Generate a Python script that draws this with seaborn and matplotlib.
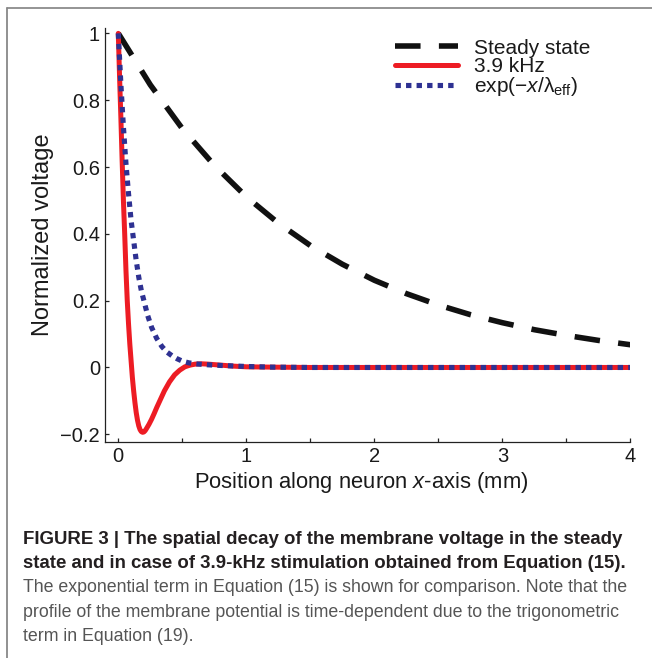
import matplotlib
matplotlib.use("Agg")
import matplotlib.pyplot as plt
from matplotlib.lines import Line2D
import numpy as np
import pandas as pd
import seaborn as sns

# ---------------- data ----------------
steady_x = [0, 0.25, 0.5, 0.75, 1.0, 1.25, 1.5, 1.75, 2.0, 2.25, 2.5, 2.75,
            3.0, 3.25, 3.5, 3.75, 4.0]
steady_y = [1.000, 0.846, 0.715, 0.605, 0.511, 0.432, 0.365, 0.309, 0.261,
            0.221, 0.187, 0.158, 0.134, 0.113, 0.096, 0.081, 0.068]

khz_x = [0, 0.01, 0.02, 0.03, 0.04, 0.05, 0.06, 0.07, 0.08, 0.09, 0.10, 0.11,
         0.12, 0.13, 0.14, 0.15, 0.16, 0.17, 0.18, 0.19, 0.20, 0.21, 0.22,
         0.24, 0.26, 0.28, 0.30, 0.33, 0.36, 0.40, 0.44, 0.48, 0.52, 0.56,
         0.60, 0.65, 0.70, 0.80, 0.90, 1.00, 1.20, 1.50, 2.00, 3.00, 4.00]
khz_y = [1.0, 0.87, 0.75, 0.62, 0.50, 0.40, 0.29, 0.20, 0.13, 0.07, 0.02,
         -0.03, -0.07, -0.105, -0.135, -0.158, -0.175, -0.186, -0.192, -0.194,
         -0.193, -0.189, -0.183, -0.17, -0.155, -0.138, -0.12, -0.095, -0.07,
         -0.043, -0.022, -0.008, 0.002, 0.007, 0.010, 0.011, 0.010, 0.007,
         0.004, 0.002, 0.001, 0.0, 0.0, 0.0, 0.0]

exp_x = [0, 0.02, 0.04, 0.06, 0.08, 0.10, 0.12, 0.14, 0.16, 0.18, 0.20, 0.23,
         0.26, 0.30, 0.34, 0.38, 0.42, 0.46, 0.50, 0.55, 0.60, 0.70, 0.80,
         1.0, 1.2, 1.5, 2.0, 3.0, 4.0]
exp_y = [1.0, 0.85, 0.72, 0.61, 0.52, 0.44, 0.38, 0.32, 0.27, 0.23, 0.20,
         0.155, 0.12, 0.087, 0.063, 0.046, 0.035, 0.026, 0.019, 0.014, 0.011,
         0.008, 0.006, 0.003, 0.001, 0.0, 0.0, 0.0, 0.0]

series_labels = ["Steady state", "3.9 kHz", "exp(\u2212$x$/\u03bb$_{\\mathrm{eff}}$)"]

x_ticks = [0, 1, 2, 3, 4]
x_tick_labels = ["0", "1", "2", "3", "4"]
x_minor_ticks = [0.5, 1.5, 2.5, 3.5]
y_ticks = [-0.2, 0, 0.2, 0.4, 0.6, 0.8, 1]
y_tick_labels = ["\u22120.2", "0", "0.2", "0.4", "0.6", "0.8", "1"]

x_label = "Position along neuron $x$-axis (mm)"
y_label = "Normalized voltage"

caption_bold = [
    "FIGURE 3 | The spatial decay of the membrane voltage in the steady",
    "state and in case of 3.9-kHz stimulation obtained from Equation (15).",
]
caption_plain = [
    "The exponential term in Equation (15) is shown for comparison. Note that the",
    "profile of the membrane potential is time-dependent due to the trigonometric",
    "term in Equation (19).",
]

# ---------------- style ----------------
sns.set_theme(style="white")
plt.rcParams["font.family"] = ["Liberation Sans", "DejaVu Sans"]
plt.rcParams["mathtext.fontset"] = "custom"
plt.rcParams["mathtext.rm"] = "Liberation Sans"
plt.rcParams["mathtext.it"] = "Liberation Sans:italic"
plt.rcParams["mathtext.bf"] = "Liberation Sans:bold"
plt.rcParams["axes.unicode_minus"] = True

DPI = 100
fig = plt.figure(figsize=(6.52, 6.58), dpi=DPI)
ax = fig.add_axes([0.161, 0.3283, 0.806, 0.6286])

df_s = pd.DataFrame({"x": steady_x, "y": steady_y})
df_k = pd.DataFrame({"x": khz_x, "y": khz_y})
df_e = pd.DataFrame({"x": exp_x, "y": exp_y})

sns.lineplot(data=df_s, x="x", y="y", ax=ax, color="#111111", lw=4.0,
             linestyle=(0, (4.6, 3.3)), dash_capstyle="butt", sort=False,
             estimator=None, label=series_labels[0])
sns.lineplot(data=df_k, x="x", y="y", ax=ax, color="#ED1C24", lw=3.6,
             sort=False, estimator=None, label=series_labels[1])
sns.lineplot(data=df_e, x="x", y="y", ax=ax, color="#2E3192", lw=3.7,
             linestyle=(0, (1.05, 1.0)), dash_capstyle="butt", sort=False,
             estimator=None, label=series_labels[2])

ax.set_xlim(-0.104, 4.0)
ax.set_ylim(-0.223, 1.015)

ax.set_xticks(x_ticks, x_tick_labels)
ax.set_xticks(x_minor_ticks, minor=True)
ax.set_yticks(y_ticks, y_tick_labels)

for side in ["top", "right"]:
    ax.spines[side].set_visible(False)
for side in ["left", "bottom"]:
    ax.spines[side].set_color("#222222")
    ax.spines[side].set_linewidth(0.9)

ax.tick_params(axis="both", which="both", direction="in", length=3.2,
               width=0.9, color="#222222", labelsize=14.5, labelcolor="#1a1a1a",
               pad=3.5, bottom=True, left=True)
ax.tick_params(axis="x", which="minor", length=3.2)

ax.set_xlabel(x_label, fontsize=15.8, color="#1a1a1a", labelpad=3.0)
ax.xaxis.label.set_x(0.487)
ax.set_ylabel(y_label, fontsize=17, color="#1a1a1a", labelpad=4.5)

leg = ax.legend(loc="upper left", bbox_to_anchor=(0.552, 0.975),
                frameon=False, fontsize=15, handlelength=3.0,
                handletextpad=0.78, labelspacing=-0.03, borderpad=0,
                borderaxespad=0)
for t in leg.get_texts():
    t.set_color("#1a1a1a")

# ---------------- caption ----------------
W, H = 652, 658
x0 = 22.7 / W
bold_base = [544, 568.3]
plain_base = [592.5, 616.8, 641.1]
for txt, yb in zip(caption_bold, bold_base):
    fig.text(x0, 1 - yb / H, txt, fontsize=13.4, fontweight="bold",
             color="#231f20", va="baseline", ha="left")
for txt, yb in zip(caption_plain, plain_base):
    fig.text(x0, 1 - yb / H, txt, fontsize=12.75, color="#555555",
             va="baseline", ha="left")

# ---------------- border lines ----------------
fig.add_artist(Line2D([7 / W, 1.0], [1 - 8 / H, 1 - 8 / H],
                      transform=fig.transFigure, color="#777777", lw=1.1))
fig.add_artist(Line2D([7 / W, 7 / W], [1 - 8 / H, 0.0],
                      transform=fig.transFigure, color="#888888", lw=1.3))

fig.savefig("out.png", dpi=DPI, facecolor="white")
